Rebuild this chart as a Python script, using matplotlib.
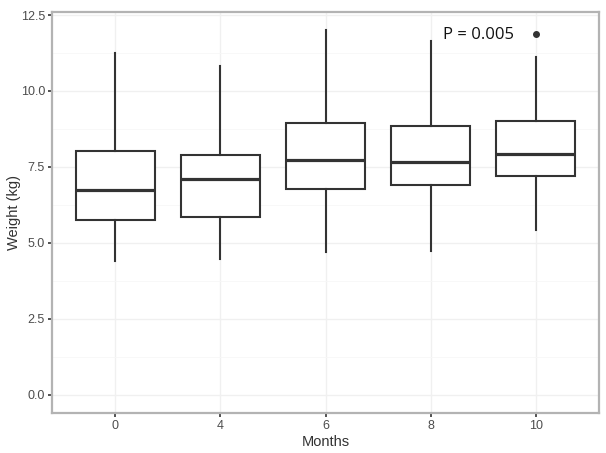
import matplotlib
matplotlib.use("Agg")
import matplotlib.pyplot as plt
from matplotlib.ticker import MultipleLocator

months = ["0", "4", "6", "8", "10"]
whisker_low = [4.39, 4.48, 4.69, 4.74, 5.43]
q1 = [5.74, 5.86, 6.79, 6.92, 7.21]
median = [6.74, 7.09, 7.72, 7.66, 7.94]
q3 = [8.01, 7.88, 8.93, 8.86, 9.00]
whisker_high = [11.25, 10.81, 12.01, 11.66, 11.11]
outliers = [[], [], [], [], [11.87]]
p_text = "P = 0.005"

plt.rcParams['font.family'] = ['Liberation Sans', 'DejaVu Sans']

fig = plt.figure(figsize=(6.06, 4.53), dpi=100)
ax = fig.add_axes([52/606, 40/453, 547/606, 401/453])

stats = []
for i in range(len(months)):
    stats.append(dict(whislo=whisker_low[i], q1=q1[i], med=median[i], q3=q3[i],
                      whishi=whisker_high[i], fliers=outliers[i], label=months[i]))

pos = list(range(1, len(months) + 1))
line_col = "#333333"
ax.bxp(stats, positions=pos, widths=0.75, showcaps=False, patch_artist=True,
       boxprops=dict(facecolor="white", edgecolor=line_col, linewidth=1.5),
       whiskerprops=dict(color=line_col, linewidth=1.5),
       medianprops=dict(color=line_col, linewidth=2.3, solid_capstyle='butt'),
       flierprops=dict(marker='o', markerfacecolor=line_col, markeredgecolor=line_col,
                       markersize=4),
       zorder=3)

ax.set_xlim(0.4, 5.6)
ax.set_ylim(-0.6, 12.6)
ax.yaxis.set_minor_locator(MultipleLocator(1.25))
ax.set_yticks([0, 2.5, 5.0, 7.5, 10.0, 12.5])
ax.set_yticklabels(["0.0", "2.5", "5.0", "7.5", "10.0", "12.5"])
ax.set_xticks(pos)
ax.set_xticklabels(months)

ax.grid(True, which='major', color="#f0f0f0", linewidth=1.0, zorder=0)
ax.grid(True, which='minor', axis='y', color="#f7f7f7", linewidth=0.6, zorder=0)
ax.set_axisbelow(True)
ax.tick_params(which='minor', length=0)
ax.tick_params(which='major', length=3, width=1.2, color="#333333",
               labelsize=9, labelcolor="#4d4d4d", pad=2)

for s in ax.spines.values():
    s.set_color("#b3b3b3")
    s.set_linewidth(1.6)

ax.set_xlabel("Months", fontsize=10.5, color="#333333", labelpad=2)
ax.set_ylabel("Weight (kg)", fontsize=10.5, color="#333333", labelpad=0)

ax.text(4.12, 11.83, p_text, fontsize=12, family=['Open Sans', 'DejaVu Sans'],
        color="#111111", va='center', ha='left')

fig.savefig("out.png", dpi=100)
